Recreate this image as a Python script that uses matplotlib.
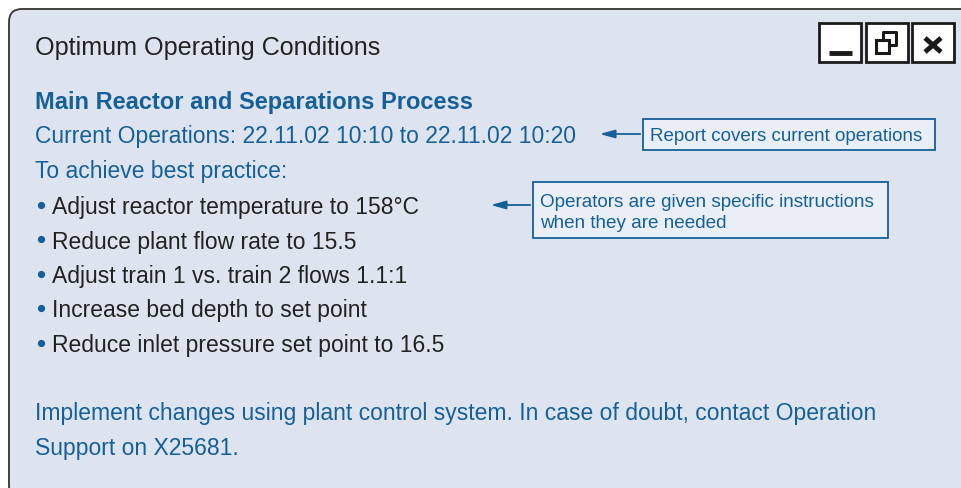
import matplotlib
matplotlib.use("Agg")
import matplotlib.pyplot as plt
from matplotlib.patches import FancyBboxPatch, Rectangle

plt.rcParams['font.family'] = ['Liberation Sans', 'DejaVu Sans']

title = "Optimum Operating Conditions"
heading = "Main Reactor and Separations Process"
current_ops = "Current Operations: 22.11.02 10:10 to 22.11.02 10:20"
intro = "To achieve best practice:"
bullets = [
    "Adjust reactor temperature to 158\u00b0C",
    "Reduce plant flow rate to 15.5",
    "Adjust train 1 vs. train 2 flows 1.1:1",
    "Increase bed depth to set point",
    "Reduce inlet pressure set point to 16.5",
]
footer = ["Implement changes using plant control system. In case of doubt, contact Operation",
          "Support on X25681."]
callout1 = "Report covers current operations"
callout2 = ["Operators are given specific instructions", "when they are needed"]

BLUE = "#16609a"
DARK = "#222222"
PANEL = "#dde4ef"
BOXFILL = "#eaeff7"
BODY = 16.45

W, H = 961, 489
fig = plt.figure(figsize=(W / 100, H / 100), dpi=100)
ax = fig.add_axes([0, 0, 1, 1])
ax.set_xlim(0, W)
ax.set_ylim(H, 0)
ax.axis("off")

# window panel, runs off the right and bottom edges
panel = FancyBboxPatch((9, 10), 980, 490, boxstyle="round,pad=0,rounding_size=13",
                       fc=PANEL, ec="#333333", lw=1.3)
ax.add_patch(panel)

ax.text(35, 55, title, fontsize=18.1, color=DARK, va="baseline")

# window buttons
for x0 in [819, 866, 912]:
    ax.add_patch(Rectangle((x0, 24), 42, 39, fc="white", ec="#1a1a1a", lw=2))
ax.plot([829, 852], [53.5, 53.5], color="#1a1a1a", lw=3.5, solid_capstyle="butt")
# restore icon
ax.add_patch(Rectangle((876, 41), 13, 13, fc="none", ec="#1a1a1a", lw=2.2))
ax.plot([883, 883, 896, 896, 889], [41, 33, 33, 46, 46], color="#1a1a1a", lw=2.2)
ax.plot([925, 941], [39, 53], color="#1a1a1a", lw=3.5, solid_capstyle="butt")
ax.plot([925, 941], [53, 39], color="#1a1a1a", lw=3.5, solid_capstyle="butt")

ax.text(35, 109, heading, fontsize=17.0, color=BLUE, va="baseline", fontweight="bold")
ax.text(35, 143, current_ops, fontsize=BODY, color=BLUE, va="baseline")
ax.text(35, 178, intro, fontsize=BODY, color=BLUE, va="baseline")

for i, b in enumerate(bullets):
    y = 214 + i * 34.5
    ax.plot(41, y - 8.3, "o", color=BLUE, ms=4.2)
    ax.text(52, y, b, fontsize=BODY, color=DARK, va="baseline")

for i, line in enumerate(footer):
    ax.text(35, 420 + i * 35, line, fontsize=BODY, color=BLUE, va="baseline")

# callouts
ax.add_patch(Rectangle((643, 120), 292, 31, fc=BOXFILL, ec=BLUE, lw=1.3))
ax.text(650, 141, callout1, fontsize=13.5, color=BLUE, va="baseline")
ax.annotate("", xy=(597, 135), xytext=(643, 135),
            arrowprops=dict(arrowstyle="-|>,head_length=0.9,head_width=0.25", color=BLUE, lw=1.3))

ax.add_patch(Rectangle((533, 183), 355, 56, fc=BOXFILL, ec=BLUE, lw=1.3))
for i, line in enumerate(callout2):
    ax.text(540, 207 + i * 21.5, line, fontsize=13.6, color=BLUE, va="baseline")
ax.annotate("", xy=(488, 206), xytext=(533, 206),
            arrowprops=dict(arrowstyle="-|>,head_length=0.9,head_width=0.25", color=BLUE, lw=1.3))

fig.savefig("out.png", dpi=100, facecolor="white")
